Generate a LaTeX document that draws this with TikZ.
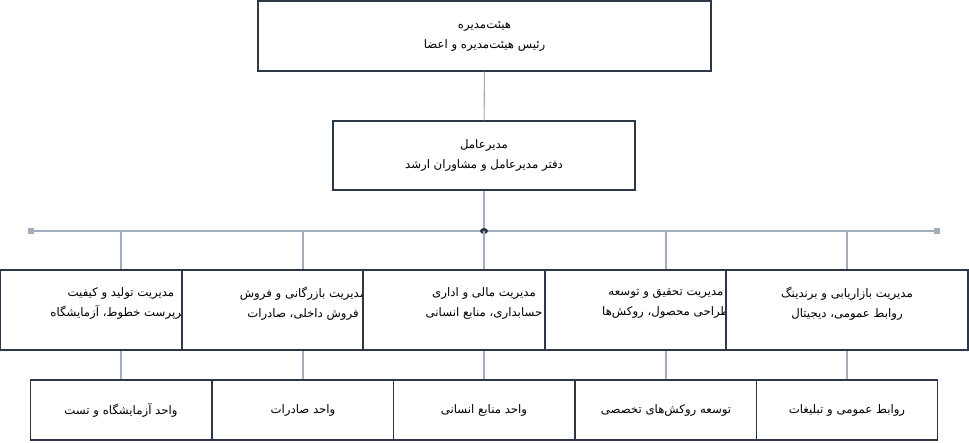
\documentclass[tikz,border=0pt]{standalone}
\usepackage{fontspec}
\newfontfamily\fafont[Script=Arabic]{DejaVu Sans}
\TeXXeTstate=1
\usetikzlibrary{positioning,calc}
\definecolor{boxline}{HTML}{2D3748}
\definecolor{linkline}{HTML}{A0AEC0}
\newcommand{\twoline}[2]{\beginR #1\endR\\[4pt]\beginR #2\endR}
\newcommand{\oneline}[1]{\beginR #1\endR}
\tikzset{
  orgbox/.style={draw=boxline,fill=white,thick,font=\fafont\fontsize{8.8}{11}\selectfont,align=center,inner sep=0pt},
  link/.style={draw=linkline,thick}
}
\begin{document}
\begin{tikzpicture}[x=0.75pt,y=-0.75pt]
\useasboundingbox (0,0) rectangle (969,442);

% top levels
\node [orgbox,minimum width=453*0.75pt,minimum height=70*0.75pt] at (484.5,36) (board) {\twoline{هیئت‌مدیره}{رئیس هیئت‌مدیره و اعضا}};
\node [orgbox,minimum width=302*0.75pt,minimum height=69*0.75pt] at (484,155.5) (ceo) {\twoline{مدیرعامل}{دفتر مدیرعامل و مشاوران ارشد}};
\draw [link] (board) -- (ceo);

% bus
\coordinate (busL) at (31,231);
\coordinate (busR) at (937,231);
\coordinate (busM) at (484,231);
\draw [link] (ceo) -- (busM);
\draw [link] (busL) -- (busR);
\fill [linkline] ($(busL)+(-3,-3)$) rectangle ($(busL)+(3,3)$);
\fill [linkline] ($(busR)+(-3,-3)$) rectangle ($(busR)+(3,3)$);
\fill [boxline] (busM) ellipse [x radius=4, y radius=3];

% bottom units and links (drawn first, boxes cover them)
\foreach \i/\cx/\txt in {1/121/{واحد آزمایشگاه و تست},2/303/{واحد صادرات},3/484/{واحد منابع انسانی},4/666/{توسعه روکش‌های تخصصی},5/847/{روابط عمومی و تبلیغات}} {
  \coordinate (top\i) at (\cx,231);
  \node [orgbox,minimum width=181*0.75pt,minimum height=60*0.75pt] at (\cx,410) (unit\i) {\oneline{\txt}};
  \draw [link] (top\i) -- (unit\i);
}

% departments, each drawn over the one before
\foreach \i/\cx/\ta/\tb in {1/121/{مدیریت تولید و کیفیت}/{سرپرست خطوط، آزمایشگاه},2/303/{مدیریت بازرگانی و فروش}/{فروش داخلی، صادرات},3/484/{مدیریت مالی و اداری}/{حسابداری، منابع انسانی},4/666/{مدیریت تحقیق و توسعه}/{طراحی محصول، روکش‌ها},5/847/{مدیریت بازاریابی و برندینگ}/{روابط عمومی، دیجیتال}} {
  \node [orgbox,minimum width=242*0.75pt,minimum height=80*0.75pt,text depth=12pt] at (\cx,310) (dept\i) {\twoline{\ta}{\tb}};
}
\end{tikzpicture}
\end{document}
